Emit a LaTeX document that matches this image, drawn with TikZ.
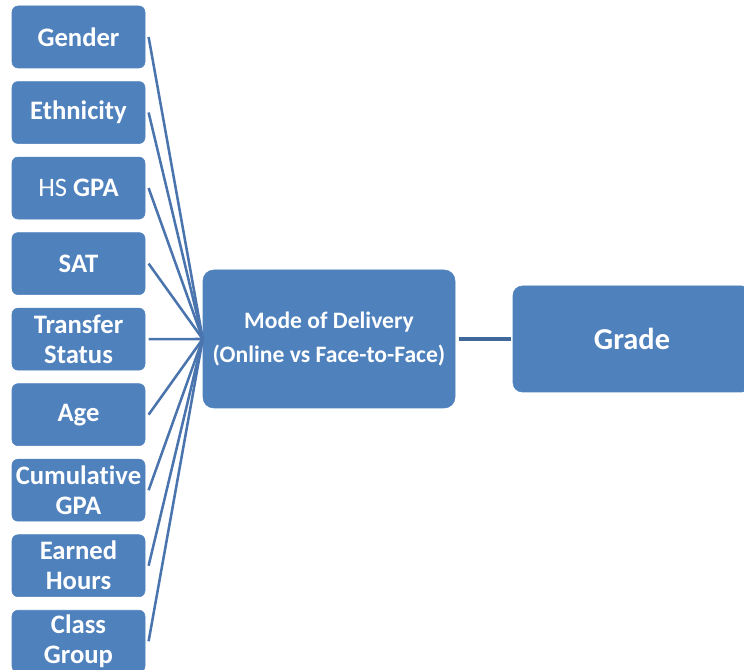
\documentclass[tikz,border=0pt]{standalone}
\usepackage{fontspec}
\setmainfont{Carlito}[Ligatures=NoCommon]
\usepackage{xcolor}
\usepackage{tikz}
\usetikzlibrary{positioning}
\definecolor{boxblue}{HTML}{4F81BD}
\definecolor{linkblue}{HTML}{4A74AD}
\definecolor{darklink}{HTML}{41689A}
\tikzset{
  factor/.style={rectangle, draw=boxblue, fill=boxblue, rounded corners=4.5pt, align=center, text=white, inner sep=0pt, minimum width=99.75pt, minimum height=46.5pt, font=\fontsize{20}{22.5}\selectfont\bfseries},
  midblock/.style={rectangle, draw=boxblue, fill=boxblue, rounded corners=8pt, align=center, text=white, minimum width=189pt, minimum height=103.5pt, font=\fontsize{17.7}{25.5}\selectfont\bfseries},
  outblock/.style={rectangle, draw=boxblue, fill=boxblue, rounded corners=7pt, align=center, text=white, minimum width=178.5pt, minimum height=79.5pt, font=\fontsize{22.8}{26}\selectfont\bfseries},
  line/.style={linkblue, line width=1.9pt},
  link/.style={darklink, line width=2.3pt}
}
\begin{document}
\begin{tikzpicture}[x=0.75pt, y=-0.75pt, node distance=9.75pt and 10pt]
  \clip (0,0) rectangle (744,670);
  \node[factor] (gender) at (78.5,37) {Gender};
  \node[factor, below=of gender] (ethnicity) {Ethnicity};
  \node[factor, below=of ethnicity] (hsgpa) {{\mdseries HS} GPA};
  \node[factor, below=of hsgpa] (sat) {SAT};
  \node[factor, below=of sat] (transfer) {Transfer\\Status};
  \node[factor, below=of transfer] (age) {Age};
  \node[factor, below=of age] (cumgpa) {Cumulative\\GPA};
  \node[factor, below=of cumgpa] (hours) {Earned\\Hours};
  \node[factor, below=of hours] (group) {Class\\Group};
  \node[midblock] (mode) at (329,339) {Mode of Delivery\\(Online vs Face-to-Face)};
  \node[outblock] (grade) at (632,339) {Grade};
  \draw[line] ([xshift=2.5pt]gender.east) -- (mode.west);
  \draw[line] ([xshift=2.5pt]ethnicity.east) -- (mode.west);
  \draw[line] ([xshift=2.5pt]hsgpa.east) -- (mode.west);
  \draw[line] ([xshift=2.5pt]sat.east) -- (mode.west);
  \draw[line] ([xshift=2.5pt]transfer.east) -- (mode.west);
  \draw[line] ([xshift=2.5pt]age.east) -- (mode.west);
  \draw[line] ([xshift=2.5pt]cumgpa.east) -- (mode.west);
  \draw[line] ([xshift=2.5pt]hours.east) -- (mode.west);
  \draw[line] ([xshift=2.5pt]group.east) -- (mode.west);
  \draw[link] ([xshift=3pt]mode.east) -- ([xshift=-1pt]grade.west);
\end{tikzpicture}
\end{document}
